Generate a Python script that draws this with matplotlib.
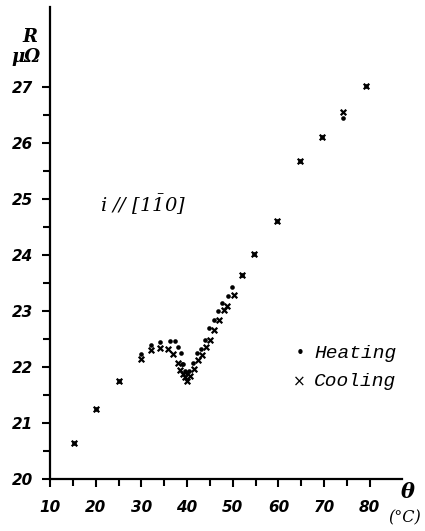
import matplotlib
matplotlib.use("Agg")
import matplotlib.pyplot as plt
from matplotlib.ticker import FixedLocator

plt.rcParams['mathtext.fontset'] = 'custom'
plt.rcParams['mathtext.it'] = 'DejaVu Serif:italic'
plt.rcParams['mathtext.rm'] = 'DejaVu Serif:italic'

heat_T = [15.3, 20.0, 25.0, 30.0, 32.0, 34.0, 36.2, 37.3, 38.0, 38.6, 38.8, 39.2, 39.5, 40.0,
          40.5, 41.3, 42.2, 43.0, 44.0, 44.9, 45.8, 46.8, 47.6, 48.9, 49.8, 52.0, 54.7, 59.6,
          64.8, 69.5, 74.1, 79.2]
heat_R = [20.64, 21.26, 21.76, 22.23, 22.39, 22.45, 22.47, 22.47, 22.36, 22.25, 22.06, 22.05,
          21.93, 21.90, 21.93, 22.07, 22.26, 22.33, 22.48, 22.69, 22.84, 23.00, 23.14, 23.27,
          23.43, 23.65, 24.02, 24.61, 25.67, 26.11, 26.45, 27.02]

cool_T = [15.3, 20.0, 25.0, 30.0, 32.0, 34.0, 35.8, 37.0, 38.0, 38.5, 39.0, 39.6, 40.0, 40.6,
          41.5, 42.5, 43.3, 44.2, 45.1, 46.0, 46.9, 48.0, 48.7, 50.2, 52.0, 54.7, 59.6, 64.8,
          69.5, 74.1, 79.2]
cool_R = [20.64, 21.26, 21.76, 22.15, 22.30, 22.35, 22.33, 22.24, 22.07, 21.95, 21.88, 21.83,
          21.75, 21.85, 21.96, 22.13, 22.22, 22.36, 22.48, 22.66, 22.84, 23.02, 23.09, 23.28,
          23.65, 24.02, 24.61, 25.67, 26.11, 26.55, 27.02]

x_ticks = [10, 20, 30, 40, 50, 60, 70, 80]
x_minor = [15, 25, 35, 45, 55, 65, 75]
y_ticks = [20, 21, 22, 23, 24, 25, 26, 27]
y_minor = [20.5, 21.5, 22.5, 23.5, 24.5, 25.5, 26.5]

fig = plt.figure(figsize=(4.25, 5.31), dpi=100)
ax = fig.add_axes([0.118, 0.0974, 0.827, 0.89])

ax.scatter(heat_T, heat_R, marker='o', s=11, color='black', linewidths=0, zorder=3)
ax.scatter(cool_T, cool_R, marker='x', s=16, color='black', linewidths=1.6, zorder=3)

ax.set_xlim(10, 87)
ax.set_ylim(20, 28.43)
for s in ['top', 'right']:
    ax.spines[s].set_visible(False)
for s in ['left', 'bottom']:
    ax.spines[s].set_linewidth(1.6)

ax.set_xticks(x_ticks)
ax.set_yticks(y_ticks)
ax.xaxis.set_minor_locator(FixedLocator(x_minor))
ax.yaxis.set_minor_locator(FixedLocator(y_minor))
ax.tick_params(which='major', direction='out', length=6, width=1.5)
ax.tick_params(which='minor', direction='out', length=5, width=1.5)
ax.tick_params(axis='x', pad=9)
ax.tick_params(axis='y', pad=6)
ax.set_xticklabels([str(v) for v in x_ticks], fontsize=11, style='italic', fontweight='bold')
ax.set_yticklabels([str(v) for v in y_ticks], fontsize=11, style='italic', fontweight='bold')

tf = dict(family='DejaVu Serif', style='italic', color='black')
mf = dict(family='Liberation Mono', style='italic', color='black')
fig.text(30 / 425, 1 - 37 / 531, 'R', fontsize=13, ha='center', va='center', fontweight='bold', **tf)
fig.text(26 / 425, 1 - 57 / 531, 'μΩ', fontsize=13, ha='center', va='center', fontweight='bold', **tf)
fig.text(143 / 425, 1 - 205 / 531, r'$i\ //\ [1\bar{1}0]$', fontsize=14, ha='center', va='center')
fig.text(300 / 425, 1 - 353 / 531, '•', fontsize=11, ha='center', va='center', color='black')
fig.text(299 / 425, 1 - 382 / 531, '×', fontsize=11, ha='center', va='center', color='black')
fig.text(314 / 425, 1 - 353 / 531, 'Heating', fontsize=14, ha='left', va='center', **mf)
fig.text(314 / 425, 1 - 382 / 531, 'Cooling', fontsize=14, ha='left', va='center', **mf)
fig.text(408 / 425, 1 - 492 / 531, 'θ', fontsize=15, ha='center', va='center', fontweight='bold', **tf)
fig.text(405 / 425, 1 - 518 / 531, '(°C)', fontsize=11.5, ha='center', va='center', **tf)

fig.savefig('out.png', dpi=100)
